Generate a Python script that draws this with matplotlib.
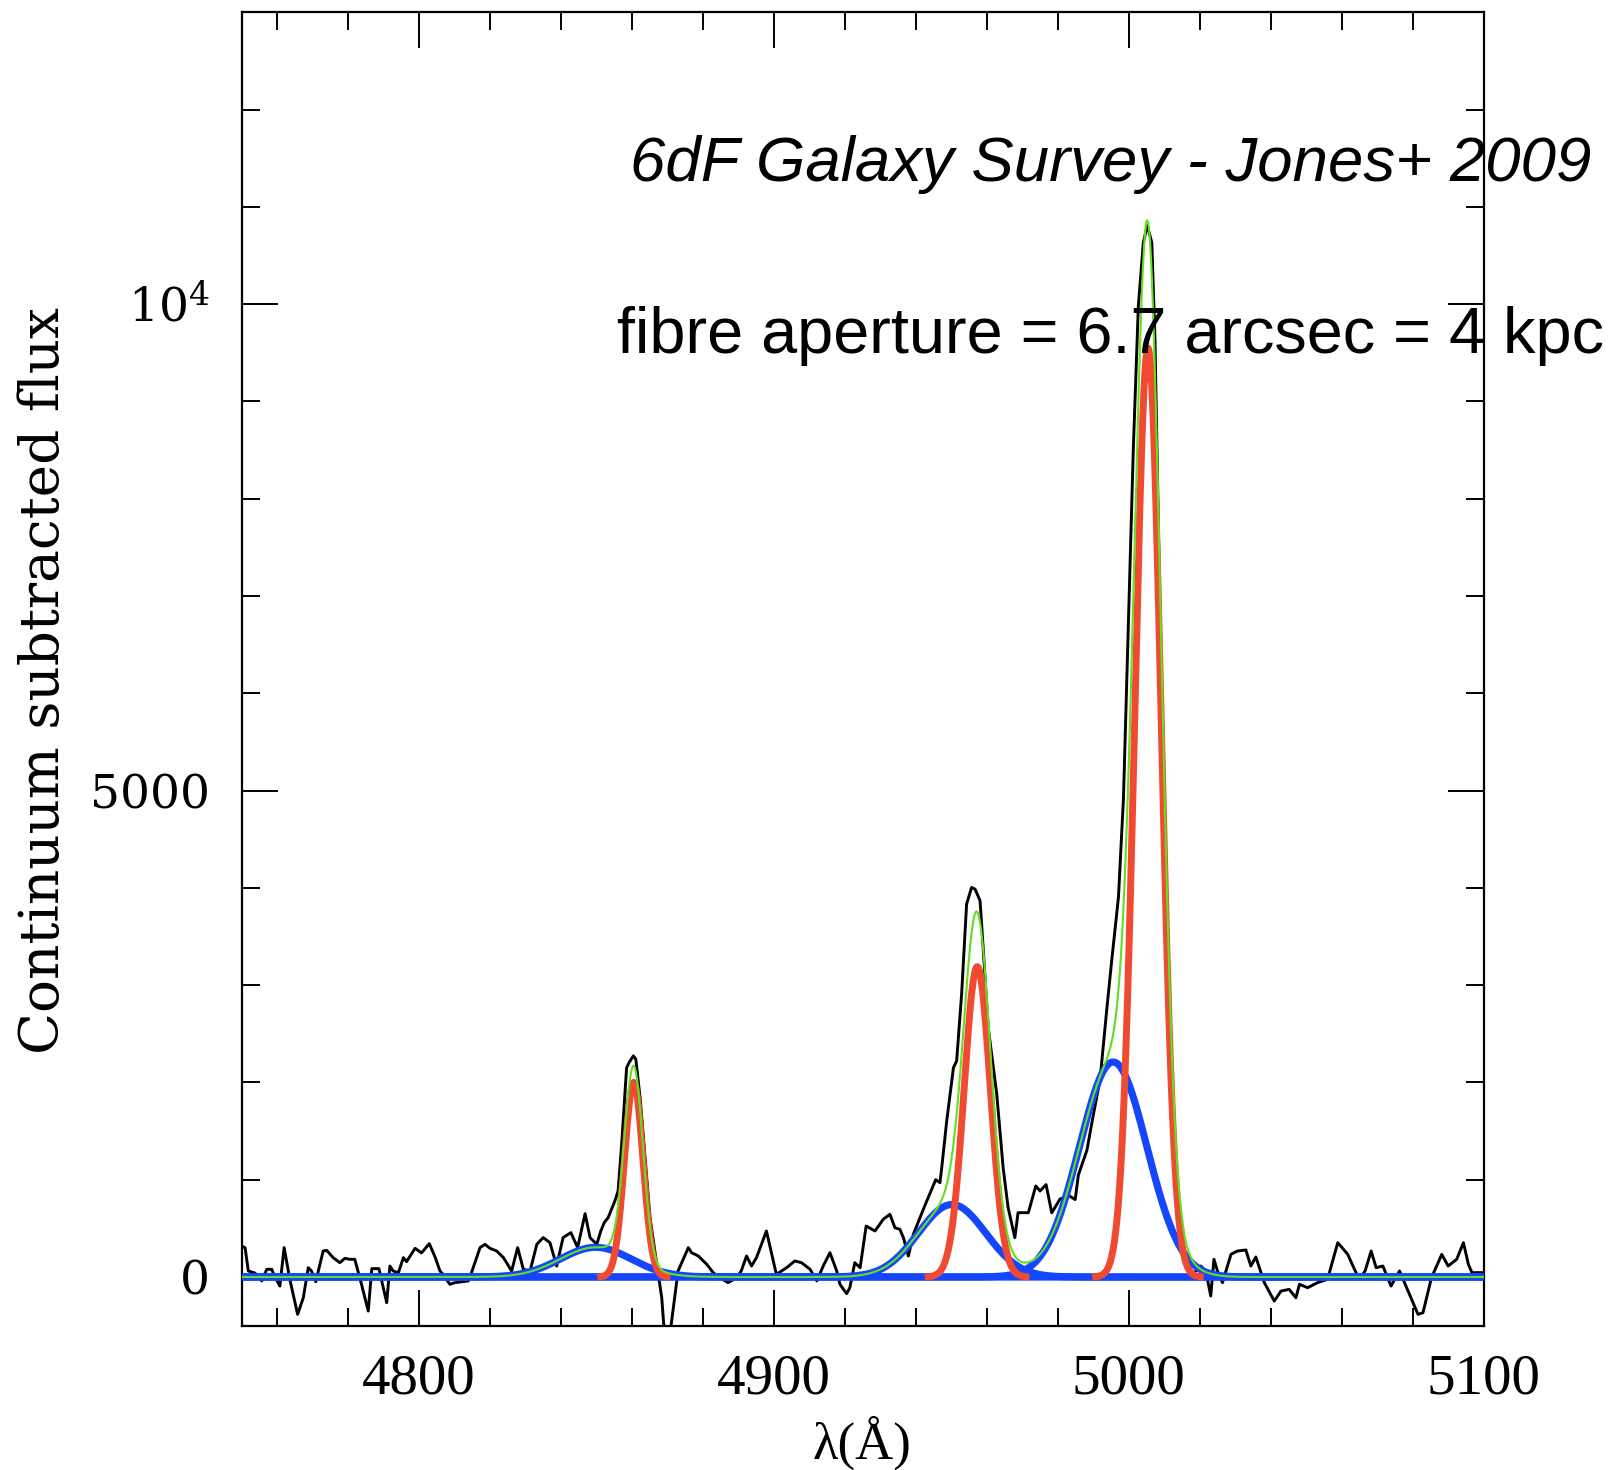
import numpy as np
import matplotlib
matplotlib.use("Agg")
import matplotlib.pyplot as plt
from matplotlib.ticker import MultipleLocator, FixedLocator, FixedFormatter

plt.rcParams["mathtext.fontset"] = "dejavuserif"

wave = [4750.0, 4751.0, 4751.9, 4753.8, 4755.7, 4757.1, 4758.5, 4759.4, 4760.8, 4762.0,
        4763.6, 4765.8, 4767.4, 4768.8, 4769.7, 4770.9, 4773.0, 4774.0, 4775.8, 4777.7,
        4779.1, 4780.5, 4781.9, 4783.8, 4785.7, 4786.7, 4788.7, 4790.9, 4791.8, 4792.7,
        4794.2, 4795.6, 4796.5, 4798.9, 4800.7, 4802.9, 4804.6, 4805.9, 4806.8, 4808.7,
        4810.1, 4812.0, 4813.9, 4814.8, 4817.2, 4818.6, 4820.0, 4821.9, 4823.8, 4826.1,
        4827.8, 4829.4, 4831.3, 4833.2, 4835.0, 4836.9, 4838.8, 4840.6, 4842.8, 4844.7,
        4846.8, 4848.2, 4850.1, 4851.2, 4852.2, 4853.3, 4855.2, 4856.1, 4857.1, 4858.5,
        4859.2, 4860.4, 4861.1, 4862.3, 4863.7, 4865.1, 4867.0, 4868.4, 4869.3, 4870.5,
        4873.0, 4875.9, 4876.8, 4878.7, 4881.1, 4882.9, 4884.8, 4887.1, 4889.5, 4890.8,
        4892.3, 4893.7, 4895.1, 4897.9, 4900.7, 4903.6, 4905.9, 4907.8, 4910.2, 4912.1,
        4913.9, 4915.8, 4917.7, 4918.6, 4920.5, 4921.4, 4922.8, 4924.3, 4926.0, 4928.5,
        4930.8, 4932.7, 4934.1, 4935.5, 4936.5, 4937.9, 4939.3, 4942.3, 4945.6, 4946.8,
        4947.3, 4948.7, 4950.6, 4951.5, 4952.9, 4954.3, 4955.7, 4956.7, 4958.1, 4958.6,
        4960.4, 4962.8, 4964.6, 4966.0, 4967.9, 4968.8, 4971.7, 4973.8, 4975.0, 4976.7,
        4978.3, 4980.6, 4983.0, 4984.9, 4985.8, 4988.2, 4990.0, 4991.9, 4993.8, 4995.2,
        4997.1, 4998.5, 4999.9, 5001.3, 5002.7, 5004.1, 5005.2, 5006.5, 5007.4, 5008.3,
        5009.3, 5010.7, 5012.1, 5013.5, 5015.3, 5018.2, 5020.3, 5021.7, 5023.1, 5024.0,
        5025.0, 5026.4, 5028.8, 5030.6, 5033.0, 5034.4, 5035.8, 5038.2, 5041.0, 5042.9,
        5045.2, 5047.1, 5048.1, 5050.4, 5053.2, 5056.0, 5058.9, 5061.7, 5063.6, 5065.0,
        5066.6, 5068.3, 5069.7, 5071.6, 5073.9, 5074.9, 5076.3, 5078.7, 5081.5, 5082.9,
        5085.3, 5088.2, 5090.0, 5092.4, 5094.3, 5095.7, 5096.7, 5100.0]
flux = [319, 300, 62, 40, -41, 79, 79, 0, -93, 302,
        -24, -384, -213, 96, 62, -48, 267, 274, 199, 147,
        192, 182, 182, -75, -350, 86, 86, -264, 113, 62,
        45, 199, 158, 295, 247, 343, 199, 62, 27, -75,
        -58, -50, -41, 45, 302, 336, 295, 267, 199, 62,
        302, 79, 62, 336, 405, 353, 113, 405, 456, 302,
        651, 405, 336, 470, 560, 610, 782, 884, 1364, 2152,
        2204, 2273, 2239, 1844, 1227, 610, 130, -213, -650, -650,
        62, 302, 250, 216, 130, 45, -7, -58, -7, 62,
        216, 113, 199, 473, 27, 96, 165, 147, 79, -41,
        113, 250, 62, -75, -171, -110, 147, 96, 524, 473,
        593, 645, 507, 490, 404, 216, 439, 713, 1000, 970,
        1124, 1604, 2152, 2221, 2907, 3832, 4004, 3987, 3867, 3592,
        2564, 1879, 1124, 713, 404, 661, 661, 936, 884, 950,
        660, 800, 840, 796, 1049, 1302, 1664, 2026, 2749, 3255,
        3906, 4918, 6725, 8535, 9980, 10631, 10812, 10631, 9619, 7810,
        5641, 3471, 1810, 724, 217, 36, 113, 62, -195, 182,
        62, -58, 233, 267, 278, 113, 206, -58, -247, -144,
        -127, -213, -75, -110, -58, -24, 353, 233, 79, -24,
        62, 267, 96, 113, -93, -24, 62, -144, -384, -367,
        -7, 233, 113, 182, 353, 130, 45, 45]

# ---- Gaussian fit components (parameters) ----
narrow_center = [4860.5, 4957.3, 5005.4]   # H-beta, [OIII]4959, [OIII]5007 narrow
narrow_amp = [2000, 3190, 9550]
narrow_sigma = [2.6, 3.7, 3.7]
broad_center = [4849.8, 4950.2, 4995.6]    # broad components
broad_amp = [305, 745, 2210]
broad_sigma = [10.0, 9.5, 9.5]

xlim = (4750, 5100)
ylim = (-500, 13000)
xticks = [4800, 4900, 5000, 5100]
xticklabels = ["4800", "4900", "5000", "5100"]
yticks = [0, 5000, 10000]
yticklabels = ["0", "5000", r"$10^4$"]

title1 = "6dF Galaxy Survey - Jones+ 2009"
title2 = "fibre aperture = 6.7 arcsec = 4 kpc"

RED = "#f04a32"
BLUE = "#1446ff"
GREEN = "#62df1e"

fig = plt.figure(figsize=(16.19, 14.70), dpi=100)
ax = fig.add_axes([0.1492, 0.0982, 0.7672, 0.8934])

lam = np.linspace(xlim[0], xlim[1], 3000)


def gauss(x, c, a, s):
    return a * np.exp(-0.5 * ((x - c) / s) ** 2)


ax.plot(wave, flux, color="black", lw=2.1, zorder=2)

total = np.zeros_like(lam)
for c, a, s in zip(broad_center, broad_amp, broad_sigma):
    g = gauss(lam, c, a, s)
    total += g
    ax.plot(lam, g, color=BLUE, lw=5.2, zorder=3, solid_capstyle="butt")
for c, a, s in zip(narrow_center, narrow_amp, narrow_sigma):
    g = gauss(lam, c, a, s)
    total += g
    ax.plot(lam, np.where(g > 3, g, np.nan), color=RED, lw=5.0, zorder=4)
ax.plot(lam, total, color=GREEN, lw=1.5, zorder=5)

ax.set_xlim(*xlim)
ax.set_ylim(*ylim)

ax.xaxis.set_major_locator(FixedLocator(xticks))
ax.xaxis.set_major_formatter(FixedFormatter(xticklabels))
ax.yaxis.set_major_locator(FixedLocator(yticks))
ax.yaxis.set_major_formatter(FixedFormatter(yticklabels))
ax.xaxis.set_minor_locator(MultipleLocator(20))
ax.yaxis.set_minor_locator(MultipleLocator(1000))

ax.tick_params(which="both", direction="in", top=True, right=True, width=1.4, color="black")
ax.tick_params(which="major", length=26)
ax.tick_params(which="minor", length=13)
ax.tick_params(axis="x", which="major", pad=20)
ax.tick_params(axis="y", which="major", pad=23)
for lab in ax.get_xticklabels():
    lab.set_fontfamily("Liberation Serif")
    lab.set_fontsize(41)
for lab in ax.get_yticklabels():
    lab.set_fontfamily("DejaVu Serif")
    lab.set_fontsize(34)

for sp in ax.spines.values():
    sp.set_linewidth(1.6)

ax.set_xlabel("λ(Å)", fontsize=38, family="Liberation Serif")
ax.xaxis.set_label_coords(0.4995, -0.089)
ax.xaxis.label.set_verticalalignment("center")
ax.set_ylabel("Continuum subtracted flux", fontsize=39.5, family="DejaVu Serif")
ax.yaxis.set_label_coords(-0.159, 0.491)
ax.yaxis.label.set_verticalalignment("center")

fig.text(630 / 1619, 1 - 181 / 1470, title1, fontsize=45.7, style="italic",
         family="Liberation Sans", ha="left", va="baseline")
fig.text(617 / 1619, 1 - 353 / 1470, title2, fontsize=46.6,
         family="Liberation Sans", ha="left", va="baseline")

fig.savefig("out.png", dpi=100)
